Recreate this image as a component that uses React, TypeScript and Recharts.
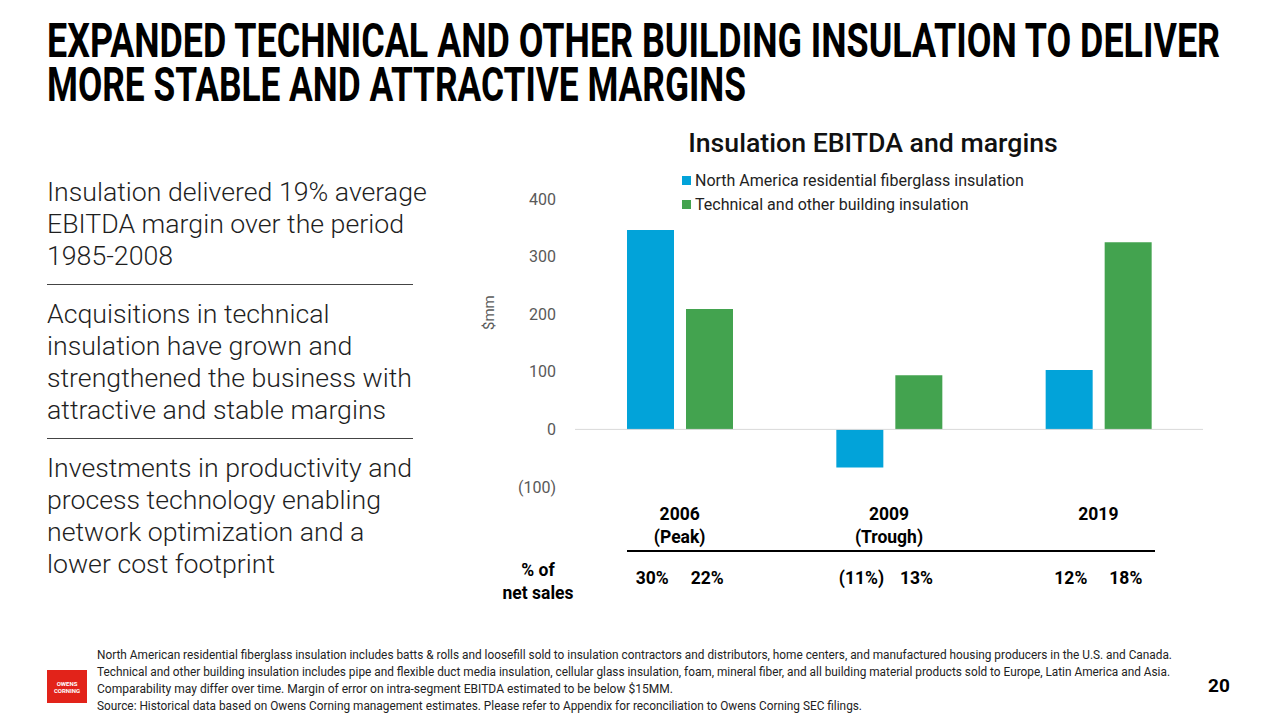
import React, { useLayoutEffect, useRef, useState } from 'react';
import { BarChart, Bar, XAxis, YAxis, ReferenceLine, Legend } from 'recharts';

// chart values
const years = ['2006', '2009', '2019'];
const yearNotes = ['(Peak)', '(Trough)', ''];
const naResidential = [346, -66, 103];
const technical = [209, 94, 325];
const naMargin = ['30%', '(11%)', '12%'];
const techMargin = ['22%', '13%', '18%'];
const yTicks = [-100, 0, 100, 200, 300, 400];

const titleLines = [
  'EXPANDED TECHNICAL AND OTHER BUILDING INSULATION TO DELIVER',
  'MORE STABLE AND ATTRACTIVE MARGINS',
];
const titleWidths = [1173, 699];
const bullets = [
  ['Insulation delivered 19% average', 'EBITDA margin over the period', '1985-2008'],
  ['Acquisitions in technical', 'insulation have grown and', 'strengthened the business with', 'attractive and stable margins'],
  ['Investments in productivity and', 'process technology enabling', 'network optimization and a', 'lower cost footprint'],
];
const footnotes = [
  'North American residential fiberglass insulation includes batts & rolls and loosefill sold to insulation contractors and distributors, home centers, and manufactured housing producers in the U.S. and Canada.',
  'Technical and other building insulation includes pipe and flexible duct media insulation, cellular glass insulation, foam, mineral fiber, and all building material products sold to Europe, Latin America and Asia.',
  'Comparability may differ over time. Margin of error on intra-segment EBITDA estimated to be below $15MM.',
  'Source: Historical data based on Owens Corning management estimates. Please refer to Appendix for reconciliation to Owens Corning SEC filings.',
];
const footnoteWidths = [1075, 1073, 576, 765];

const BLUE = '#02A3D9';
const GREEN = '#43A34F';
const BAR_SIZE = 47;
const BAR_GAP = 12;
const FONT = 'Roboto, "Noto Sans", sans-serif';

const data = years.map((year, i) => ({
  year,
  note: yearNotes[i],
  na: naResidential[i],
  tech: technical[i],
  naPct: naMargin[i],
  techPct: techMargin[i],
}));

const fmtTick = (v: number) => (v < 0 ? `(${Math.abs(v)})` : `${v}`);

// squeezes a line of text horizontally so it fills the given width (condensed headline look)
const FitLine = ({ text, width }: { text: string; width: number }) => {
  const ref = useRef<HTMLSpanElement>(null);
  const [scale, setScale] = useState(1);
  useLayoutEffect(() => {
    if (ref.current) setScale(width / ref.current.offsetWidth);
  }, [text, width]);
  return (
    <div style={{ height: 44, width }}>
      <span
        ref={ref}
        style={{ display: 'inline-block', whiteSpace: 'nowrap', transform: `scaleX(${scale})`, transformOrigin: 'left' }}
      >
        {text}
      </span>
    </div>
  );
};

const YearTick = (props: any) => {
  const { x, y, payload } = props;
  const row = data.find((d) => d.year === payload.value);
  if (!row) return null;
  const off = (BAR_SIZE + BAR_GAP) / 2 - 2;
  return (
    <g transform={`translate(${x},${y})`} fontFamily={FONT} fontWeight={700} fontSize={17.5} fill="#000">
      <text x={0} y={31} textAnchor="middle">{row.year}</text>
      {row.note && <text x={0} y={54} textAnchor="middle">{row.note}</text>}
      <text x={-off} y={95} textAnchor="middle">{row.naPct}</text>
      <text x={off} y={95} textAnchor="middle">{row.techPct}</text>
    </g>
  );
};

const LegendBox = (props: any) => {
  const { payload } = props;
  return (
    <div style={{ fontFamily: FONT, fontSize: 16, color: '#222' }}>
      {(payload || []).map((p: any) => (
        <div key={p.value} style={{ display: 'flex', alignItems: 'center', height: 24 }}>
          <span style={{ width: 9, height: 9, background: p.color, marginRight: 4 }} />
          {p.value}
        </div>
      ))}
    </div>
  );
};

export default function App() {
  return (
    <div style={{ position: 'absolute', left: 0, top: 0, width: 1280, height: 720, background: '#fff', fontFamily: FONT, overflow: 'hidden' }}>
      {/* slide title */}
      <div style={{ position: 'absolute', left: 47, top: 18.6, fontSize: 48, lineHeight: '44px', fontWeight: 700, color: '#000' }}>
        {titleLines.map((t, i) => (
          <FitLine key={t} text={t} width={titleWidths[i]} />
        ))}
      </div>

      {/* left bullets */}
      <div style={{ position: 'absolute', left: 47, top: 176, width: 390, color: '#1f1f1f', fontWeight: 300, fontSize: 26.7, lineHeight: '32px' }}>
        {bullets.map((block, bi) => (
          <div key={bi} style={{ borderTop: bi > 0 ? '1px solid #444' : 'none', width: 366, paddingTop: bi > 0 ? 13 : 0, marginTop: bi > 0 ? 12 : 0 }}>
            {block.map((line) => (
              <div key={line} style={{ whiteSpace: 'nowrap' }}>{line}</div>
            ))}
          </div>
        ))}
      </div>

      {/* chart */}
      <div style={{ position: 'absolute', left: 628, top: 127, width: 490, textAlign: 'center', fontSize: 26.7, fontWeight: 500, color: '#111' }}>
        Insulation EBITDA and margins
      </div>
      <div style={{ position: 'absolute', left: 470, top: 120 }}>
        <BarChart
          width={760}
          height={500}
          data={data}
          margin={{ top: 79, right: 27, bottom: 13, left: 45 }}
          barGap={BAR_GAP}
          barSize={BAR_SIZE}
        >
          <YAxis
            domain={[-100, 400]}
            ticks={yTicks}
            width={60}
            axisLine={false}
            tickLine={false}
            tickSize={0}
            tickMargin={19}
            tickFormatter={fmtTick}
            tick={{ fill: '#595959', fontSize: 16, fontFamily: FONT }}
          />
          <XAxis dataKey="year" height={120} axisLine={false} tickLine={false} tickSize={0} tick={<YearTick />} interval={0} />
          <ReferenceLine y={0} stroke="#d9d9d9" strokeWidth={1} />
          <Legend
            layout="vertical"
            align="center"
            verticalAlign="middle"
            content={<LegendBox />}
            wrapperStyle={{ left: 212, top: 48, width: 420 }}
          />
          <Bar dataKey="na" name="North America residential fiberglass insulation" fill={BLUE} isAnimationActive={false} />
          <Bar dataKey="tech" name="Technical and other building insulation" fill={GREEN} isAnimationActive={false} />
        </BarChart>
      </div>
      <div style={{ position: 'absolute', left: 478, top: 310, transform: 'rotate(-90deg)', transformOrigin: 'center', fontSize: 15, color: '#595959', width: 22, textAlign: 'center' }}>
        $mm
      </div>
      <div style={{ position: 'absolute', left: 627, top: 550, width: 528, height: 2, background: '#000' }} />
      <div style={{ position: 'absolute', left: 488, top: 559, width: 100, textAlign: 'center', fontSize: 17.5, fontWeight: 700, lineHeight: '23px', color: '#000' }}>
        % of<br />net sales
      </div>

      {/* footnotes */}
      <svg width={1280} height={80} style={{ position: 'absolute', left: 0, top: 640 }}>
        {footnotes.map((f, i) => (
          <text key={i} x={97} y={19 + i * 17} textLength={footnoteWidths[i]} lengthAdjust="spacingAndGlyphs" fontFamily={FONT} fontSize={12} fill="#222">
            {f}
          </text>
        ))}
      </svg>
      <div style={{ position: 'absolute', left: 47, top: 670, width: 40, height: 33, background: '#E2231A', color: '#fff', fontSize: 6, lineHeight: '7px', fontWeight: 700, display: 'flex', flexDirection: 'column', justifyContent: 'center', alignItems: 'center' }}>
        <span>OWENS</span>
        <span>CORNING</span>
      </div>
      <div style={{ position: 'absolute', left: 1208, top: 674, fontSize: 19, fontWeight: 700, color: '#000' }}>20</div>
    </div>
  );
}
